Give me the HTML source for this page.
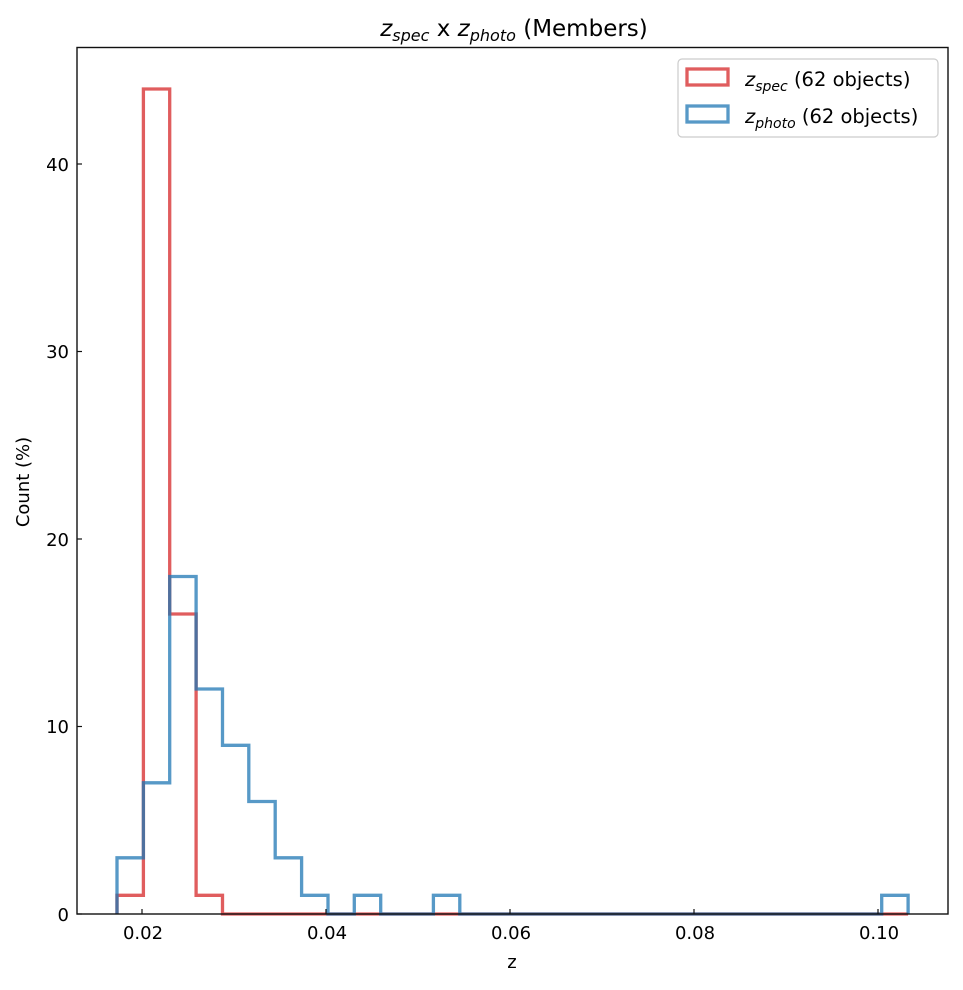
<!DOCTYPE html>
<html><head><style>
html,body{margin:0;padding:0;background:#fff;}
svg text{font-family:"DejaVu Sans","Liberation Sans",sans-serif;fill:#000;}
</style></head><body>
<svg width="963" height="985" xmlns="http://www.w3.org/2000/svg">
<rect width="963" height="985" fill="#fff"/>
<g id="plot"></g>
<rect x="77" y="47.5" width="871" height="866.5" fill="none" stroke="#111" stroke-width="1.4"/>
<g stroke="#111" stroke-width="1.2">
<line x1="142" y1="914" x2="142" y2="909"/>
<line x1="326" y1="914" x2="326" y2="909"/>
<line x1="510" y1="914" x2="510" y2="909"/>
<line x1="694" y1="914" x2="694" y2="909"/>
<line x1="878" y1="914" x2="878" y2="909"/>
<line x1="77" y1="914" x2="82" y2="914"/>
<line x1="77" y1="726.5" x2="82" y2="726.5"/>
<line x1="77" y1="539" x2="82" y2="539"/>
<line x1="77" y1="351.5" x2="82" y2="351.5"/>
<line x1="77" y1="164" x2="82" y2="164"/>
</g>
<g font-size="18" text-anchor="middle">
<text x="143" y="939">0.02</text>
<text x="327" y="939">0.04</text>
<text x="511" y="939">0.06</text>
<text x="695" y="939">0.08</text>
<text x="879" y="939">0.10</text>
<text x="512" y="968">z</text>
</g>
<g font-size="18" text-anchor="end">
<text x="69" y="921">0</text>
<text x="69" y="733">10</text>
<text x="69" y="546">20</text>
<text x="69" y="358">30</text>
<text x="69" y="171">40</text>
</g>
<text x="29" y="482" font-size="18" text-anchor="middle" transform="rotate(-90 29 482)">Count (%)</text>
<text x="514" y="36" font-size="23" text-anchor="middle"><tspan font-style="italic">z</tspan><tspan font-style="italic" font-size="16" dy="5">spec</tspan><tspan dy="-5"> x </tspan><tspan font-style="italic">z</tspan><tspan font-style="italic" font-size="16" dy="5">photo</tspan><tspan dy="-5"> (Members)</tspan></text>
<rect x="678" y="59" width="260" height="78" rx="4" fill="#fff" stroke="#ccc" stroke-width="1.2"/>
<rect x="687" y="69" width="41" height="16" fill="none" stroke="#d62728" stroke-opacity="0.75" stroke-width="3.3"/>
<rect x="687" y="106" width="41" height="16" fill="none" stroke="#1f77b4" stroke-opacity="0.75" stroke-width="3.3"/>
<text x="745" y="86" font-size="19.5"><tspan font-style="italic">z</tspan><tspan font-style="italic" font-size="14" dy="5">spec</tspan><tspan dy="-5"> (62 objects)</tspan></text>
<text x="745" y="123" font-size="19.5"><tspan font-style="italic">z</tspan><tspan font-style="italic" font-size="14" dy="5">photo</tspan><tspan dy="-5"> (62 objects)</tspan></text>
</svg>
<script>
(function(){
var e0=117,w=26.37,y0=914,k=18.75;
function path(c){var d="M"+e0+","+y0;for(var i=0;i<c.length;i++){var y=y0-c[i]*k;d+=" L"+(e0+i*w).toFixed(1)+","+y.toFixed(1)+" L"+(e0+(i+1)*w).toFixed(1)+","+y.toFixed(1);}d+=" L"+(e0+c.length*w).toFixed(1)+","+y0;return d;}
var red=[1,44,16,1];while(red.length<30)red.push(0);
var blue=[3,7,18,12,9,6,3,1,0,1,0,0,1];while(blue.length<29)blue.push(0);blue.push(1);
var g=document.getElementById("plot"),ns="http://www.w3.org/2000/svg";
[[red,"#d62728"],[blue,"#1f77b4"]].forEach(function(s){var p=document.createElementNS(ns,"path");p.setAttribute("d",path(s[0]));p.setAttribute("fill","none");p.setAttribute("stroke",s[1]);p.setAttribute("stroke-opacity","0.75");p.setAttribute("stroke-width","3.3");g.appendChild(p);});
})();
</script>
</body></html>
